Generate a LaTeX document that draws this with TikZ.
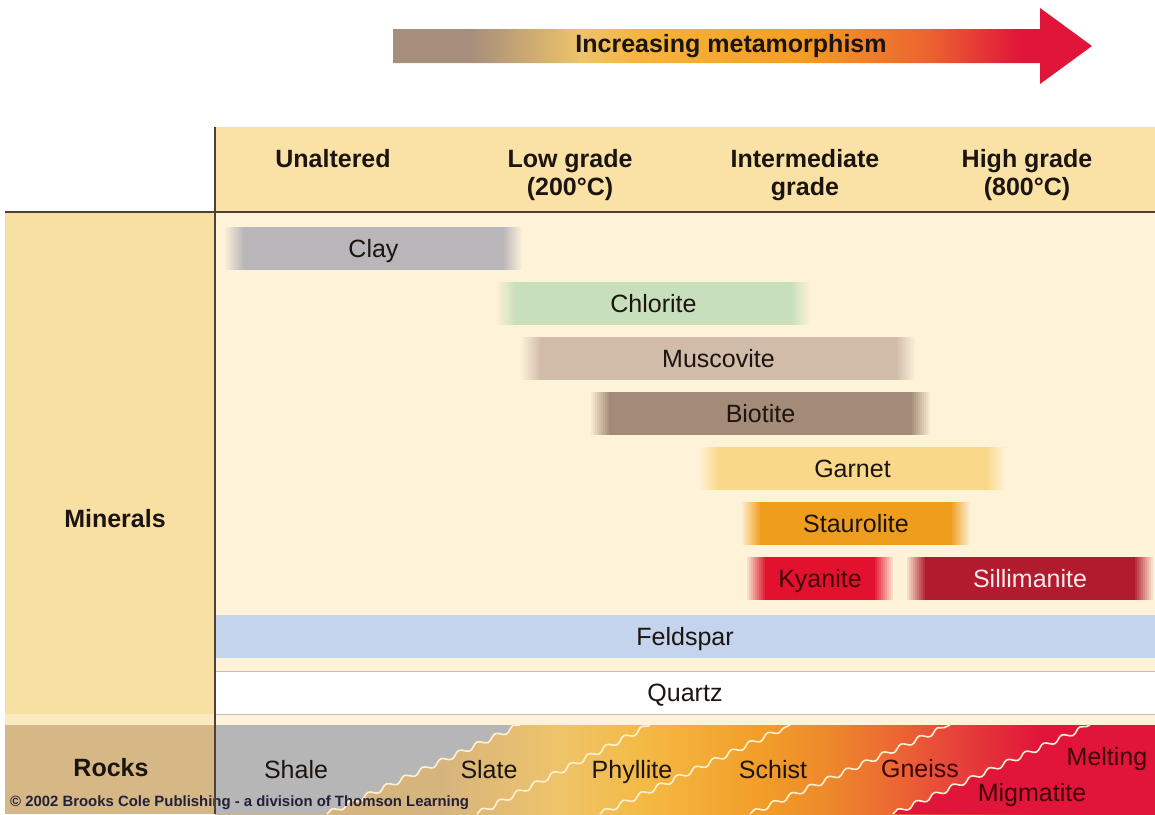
\documentclass[tikz,border=0pt]{standalone}
\usepackage{fontspec}
\setmainfont{Liberation Sans}
\usepackage{xcolor}
\usepackage{tikz}
\usetikzlibrary{decorations.pathmorphing}

\definecolor{headband}{HTML}{FAE2A7}
\definecolor{leftband}{HTML}{F8E0A3}
\definecolor{leftstrip}{HTML}{FBE9C0}
\definecolor{bodycream}{HTML}{FEF2D9}
\definecolor{rockcell}{HTML}{D6B786}
\definecolor{gridline}{HTML}{4E4036}
\definecolor{inktext}{HTML}{1C1410}
\definecolor{creditink}{HTML}{22203A}
\definecolor{claygray}{HTML}{B8B6B9}
\definecolor{chloritegreen}{HTML}{C8DFBB}
\definecolor{muscovitetan}{HTML}{D0BCA9}
\definecolor{biotitebrown}{HTML}{A48B77}
\definecolor{garnetyellow}{HTML}{F9D88A}
\definecolor{staurolorange}{HTML}{EF9D1C}
\definecolor{kyanitered}{HTML}{E2122F}
\definecolor{sillimred}{HTML}{B21B2E}
\definecolor{feldsparblue}{HTML}{C3D4EC}
\definecolor{quartzline}{HTML}{C9BEB2}
\definecolor{shalegray}{HTML}{B6B6B6}
\definecolor{meltred}{HTML}{E1143A}
\definecolor{meltink}{HTML}{3E0408}
\definecolor{seamline}{HTML}{FFF0D2}
\definecolor{arrowbrown}{HTML}{A58E7C}
\definecolor{arrowgold}{HTML}{EEC36A}
\definecolor{arrowamber}{HTML}{F5B43C}
\definecolor{arroworange}{HTML}{F49E22}
\definecolor{arrowflame}{HTML}{EC6230}
\definecolor{rocktan}{HTML}{D6B47E}
\definecolor{rockgold}{HTML}{EEC46A}
\definecolor{rockamber}{HTML}{F4BA46}
\definecolor{rockorange}{HTML}{F29E28}
\definecolor{rockdeep}{HTML}{EE882B}
\definecolor{rockflame}{HTML}{EC6434}
\definecolor{rockember}{HTML}{E6403A}

\pgfdeclarehorizontalshading{metashade}{100bp}{color(0bp)=(arrowbrown); color(30.5bp)=(arrowbrown); color(38.4bp)=(arrowgold); color(42.7bp)=(arrowamber); color(54.1bp)=(arroworange); color(63.4bp)=(arrowflame); color(69.9bp)=(meltred); color(100bp)=(meltred)}
\pgfdeclarehorizontalshading{rockshade}{100bp}{color(0bp)=(rocktan); color(37bp)=(rocktan); color(43.3bp)=(rockgold); color(47.6bp)=(rockamber); color(54bp)=(rockorange); color(57.7bp)=(rockdeep); color(61.4bp)=(rockflame); color(64.6bp)=(rockember); color(68.9bp)=(meltred); color(100bp)=(meltred)}

\tikzstyle{headtext} = [anchor=north, inner sep=0pt, align=center, font=\fontsize{25}{28}\selectfont\bfseries, text=inktext]
\tikzstyle{rowlabel} = [inner sep=0pt, font=\fontsize{25}{28}\selectfont\bfseries, text=inktext]
\tikzstyle{mineralbar} = [rectangle, minimum height=43pt, inner sep=0pt, text height=18pt, text depth=0pt, text centered, font=\fontsize{25}{28}\selectfont, text=inktext]
\tikzstyle{rockname} = [anchor=base, inner sep=0pt, font=\fontsize{25}{28}\selectfont, text=inktext]
\tikzstyle{seam} = [seamline, line width=1.6pt]
\tikzset{
  seamsaw/.style={decoration={snake, segment length=20pt, amplitude=2.5pt}},
  fadebar/.style={fill=#1, path picture={
    \foreach \k in {1,...,9} {
      \pgfmathtruncatemacro{\p}{\k*10}
      \fill[#1!\p!bodycream] ([xshift=\k*2pt-2pt]path picture bounding box.south west) rectangle ([xshift=18pt]path picture bounding box.north west);
      \fill[#1!\p!bodycream] ([xshift=-\k*2pt+2pt]path picture bounding box.south east) rectangle ([xshift=-18pt]path picture bounding box.north east);
    }
  }}
}

\begin{document}
\begin{tikzpicture}[x=1pt, y=-1pt]
\useasboundingbox (0,0) rectangle (1155,814);

% Background bands
\fill[white] (0,0) rectangle (1155,814);
\fill[headband] (215,127) rectangle (1155,212);
\fill[leftband] (5,212) rectangle (215,725);
\fill[leftstrip] (5,714) rectangle (215,725);
\fill[bodycream] (215,212) rectangle (1155,725);
\fill[rockcell] (5,725) rectangle (215,814);

% Arrow on top
\shade[shading=metashade] (393,29) -- (1040,29) -- (1040,8) -- (1092,46) -- (1040,84) -- (1040,63) -- (393,63) -- cycle;
\node (metalabel) [rowlabel] at (731,46) {Increasing metamorphism};

% Nodes for minerals
\node (clay) [mineralbar, fadebar=claygray, minimum width=297pt] at (373.5,248.5) {Clay};
\node (chlorite) [mineralbar, fadebar=chloritegreen, minimum width=313pt] at (653.5,303.5) {Chlorite};
\node (muscovite) [mineralbar, fadebar=muscovitetan, minimum width=393pt] at (718.5,358.5) {Muscovite};
\node (biotite) [mineralbar, fadebar=biotitebrown, minimum width=339pt] at (760.5,413.5) {Biotite};
\node (garnet) [mineralbar, fadebar=garnetyellow, minimum width=305pt] at (852.5,468.5) {Garnet};
\node (staurolite) [mineralbar, fadebar=staurolorange, minimum width=228pt] at (856,523.5) {Staurolite};
\node (kyanite) [mineralbar, fadebar=kyanitered, minimum width=146pt, text=meltink] at (820,578.5) {Kyanite};
\node (sillimanite) [mineralbar, fadebar=sillimred, minimum width=246pt, text=white!92!red] at (1030,578.5) {Sillimanite};
\node (feldspar) [mineralbar, fill=feldsparblue, minimum width=940pt] at (685,636.5) {Feldspar};
\node (quartz) [mineralbar, fill=white, draw=quartzline, line width=1pt, minimum width=940pt] at (685,692.5) {Quartz};

% Rocks row
\shade[shading=rockshade] (215,725) rectangle (1155,814);
\fill[shalegray] (215,725) -- (215,814) -- (327,814) decorate[seamsaw] {-- (520,725)} -- cycle;
\fill[meltred] (893,814) decorate[seamsaw] {-- (1090,725)} -- (1155,725) -- (1155,814) -- cycle;
\draw[seam, seamsaw, decorate] (327,814) -- (520,725);
\draw[seam, seamsaw, decorate] (477,814) -- (650,725);
\draw[seam, seamsaw, decorate] (600,814) -- (790,725);
\draw[seam, seamsaw, decorate] (750,814) -- (950,725);
\draw[seam, seamsaw, decorate] (893,814) -- (1090,725);

% Header labels
\node (unaltered) [headtext] at (333,149) {Unaltered};
\node (lowgrade) [headtext] at (570,149) {Low grade\\(200°C)};
\node (intermediate) [headtext] at (805,149) {Intermediate\\grade};
\node (highgrade) [headtext] at (1027,149) {High grade\\(800°C)};

% Row labels
\node (minerals) [rowlabel] at (115,519) {Minerals};
\node (rocks) [rowlabel] at (111,768) {Rocks};

% Rock names
\node (shale) [rockname] at (296,778) {Shale};
\node (slate) [rockname] at (489,778) {Slate};
\node (phyllite) [rockname] at (632,778) {Phyllite};
\node (schist) [rockname] at (773,778) {Schist};
\node (gneiss) [rockname, text=meltink] at (920,777) {Gneiss};
\node (melting) [rockname, text=meltink] at (1107,765) {Melting};
\node (migmatite) [rockname, text=meltink] at (1032,801) {Migmatite};

\node (credit) [anchor=base west, inner sep=0pt, font=\fontsize{14.9}{17}\selectfont\bfseries, text=creditink] at (10,806) {© 2002 Brooks Cole Publishing - a division of Thomson Learning};

% Grid lines
\draw[gridline, line width=2pt] (5,212) -- (1155,212);
\draw[gridline, line width=2pt] (215,127) -- (215,814);
\end{tikzpicture}
\end{document}
